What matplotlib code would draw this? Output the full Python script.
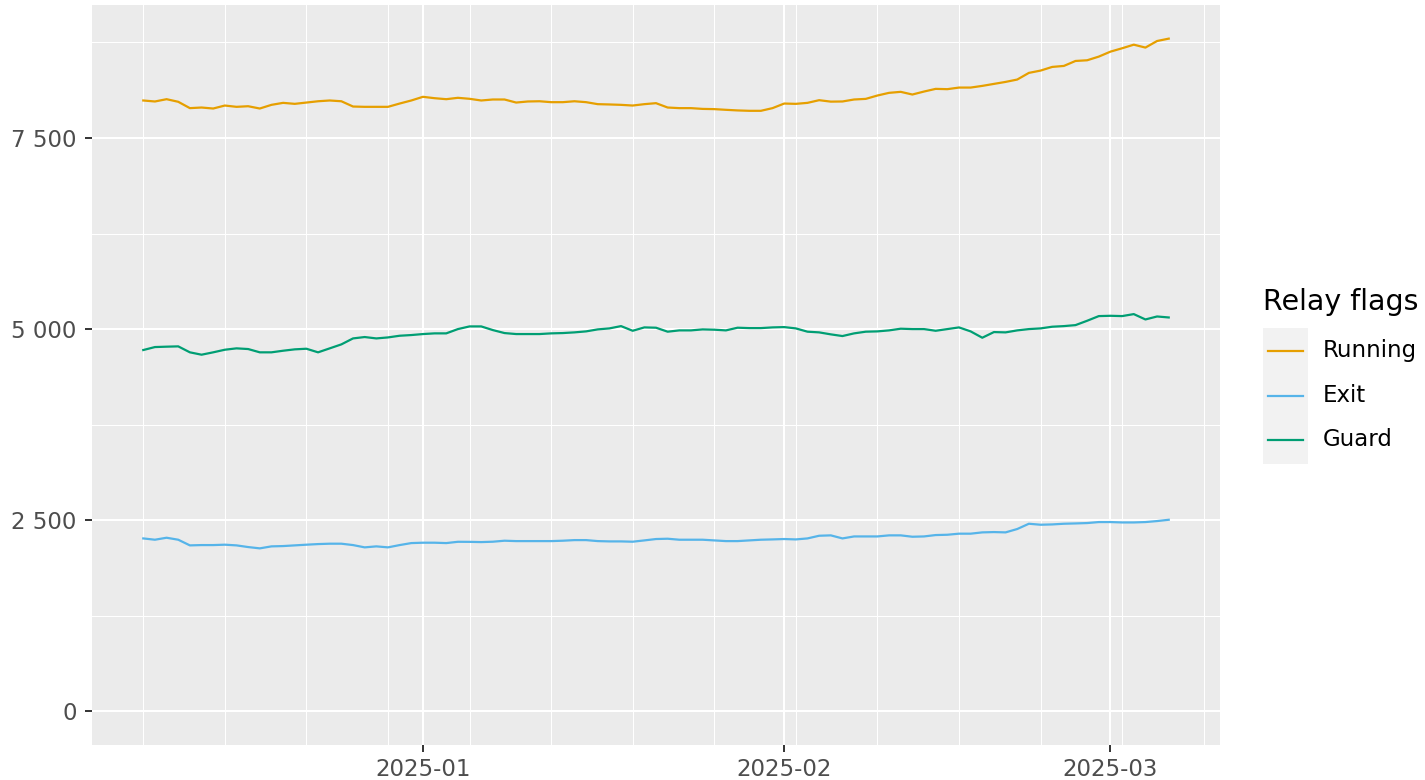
import numpy as np
import pandas as pd
import matplotlib
matplotlib.use("Agg")
import matplotlib.pyplot as plt
import matplotlib.dates as mdates
from matplotlib.ticker import FuncFormatter, MultipleLocator
from matplotlib.patches import Rectangle
from matplotlib.lines import Line2D

dates = pd.date_range("2024-12-08", "2025-03-06", freq="D")

running = [
    7990, 7977, 8007, 7973, 7890, 7898, 7885, 7924, 7907, 7915, 7885, 7933, 7959, 7946, 7963, 7980,
    7990, 7980, 7911, 7907, 7907, 7907, 7950, 7990,
    8038, 8020, 8007, 8025, 8012, 7990, 8003, 8003, 7963, 7977, 7980, 7968, 7968, 7980, 7968, 7942,
    7938, 7933, 7924, 7942, 7955, 7898, 7890, 7890, 7880, 7877, 7868, 7860, 7855, 7855, 7890,
    7950, 7946, 7959, 7994, 7975, 7977, 8003, 8011, 8055, 8090, 8103, 8068, 8107, 8142, 8138, 8159,
    8159, 8181, 8207, 8233, 8264, 8351, 8381, 8429, 8442, 8507, 8516, 8564,
    8629, 8673, 8720, 8682, 8768, 8799,
]
exit_ = [
    2262, 2245, 2271, 2245, 2171, 2175, 2175, 2180, 2171, 2149, 2132, 2158, 2162, 2171, 2180, 2188,
    2193, 2193, 2175, 2145, 2158, 2145, 2175, 2201,
    2206, 2206, 2201, 2218, 2217, 2214, 2219, 2232, 2227, 2227, 2227, 2227, 2232, 2240, 2240, 2227,
    2223, 2223, 2219, 2236, 2254, 2258, 2245, 2245, 2245, 2236, 2227, 2227, 2236, 2245, 2249,
    2254, 2249, 2262, 2297, 2302, 2262, 2288, 2288, 2288, 2302, 2302, 2284, 2288, 2306, 2310, 2324,
    2324, 2341, 2345, 2341, 2385, 2454, 2441, 2445, 2454, 2458, 2463, 2476,
    2476, 2471, 2471, 2476, 2489, 2506,
]
guard = [
    4726, 4765, 4770, 4774, 4696, 4665, 4696, 4730, 4748, 4739, 4696, 4696, 4717, 4735, 4743, 4696,
    4748, 4800, 4878, 4896, 4878, 4891, 4913, 4922,
    4935, 4944, 4944, 5000, 5035, 5035, 4987, 4948, 4935, 4935, 4935, 4944, 4948, 4957, 4970, 4996,
    5009, 5039, 4978, 5022, 5018, 4966, 4983, 4983, 4996, 4992, 4983, 5018, 5013, 5013, 5022,
    5026, 5009, 4966, 4957, 4931, 4909, 4944, 4966, 4970, 4983, 5005, 5000, 5000, 4978, 5000, 5022,
    4970, 4887, 4961, 4957, 4983, 5000, 5009, 5031, 5039, 5052, 5109, 5170,
    5174, 5170, 5196, 5126, 5165, 5152,
]

series_names = ["Running", "Exit", "Guard"]
series_values = [running, exit_, guard]
series_colors = ["#E69F00", "#56B4E9", "#009E73"]

fig = plt.figure(figsize=(14.25, 7.8), dpi=100)
ax = fig.add_axes([92 / 1425, 1 - 745 / 780, (1220 - 92) / 1425, (745 - 5) / 780])
ax.set_facecolor("#EBEBEB")
for s in ax.spines.values():
    s.set_visible(False)

for name, vals, col in zip(series_names, series_values, series_colors):
    ax.plot(dates, vals, color=col, linewidth=1.6, solid_joinstyle="round", zorder=3)

# limits (ggplot-style 5% expansion, including 0)
xnum = mdates.date2num(dates)
xr = xnum[-1] - xnum[0]
ax.set_xlim(xnum[0] - 0.05 * xr, xnum[-1] + 0.05 * xr)
ymax = max(max(v) for v in series_values)
ax.set_ylim(0 - 0.05 * ymax, ymax + 0.05 * ymax)

ax.xaxis.set_major_locator(mdates.MonthLocator())
ax.xaxis.set_major_formatter(mdates.DateFormatter("%Y-%m"))
ax.xaxis.set_minor_locator(mdates.WeekdayLocator(byweekday=mdates.SU))
ax.yaxis.set_major_locator(MultipleLocator(2500))
ax.yaxis.set_minor_locator(MultipleLocator(1250))
ax.yaxis.set_major_formatter(FuncFormatter(lambda v, p: f"{int(round(v)):,}".replace(",", " ")))

ax.grid(which="major", color="white", linewidth=1.5, zorder=1)
ax.grid(which="minor", color="white", linewidth=0.75, zorder=1)
ax.set_axisbelow(True)

ax.tick_params(which="major", length=5, width=1.4, color="#333333", labelsize=16.5,
               labelcolor="#4D4D4D", pad=4)
ax.tick_params(axis="y", which="major", pad=6)
ax.tick_params(which="minor", length=0)

# legend
def fy(py):
    return 1 - py / 780

fig.text(1263 / 1425, fy(302), "Relay flags", fontsize=20.5, color="black", va="center", ha="left")
fig.patches.append(Rectangle((1263 / 1425, fy(464)), 45 / 1425, (464 - 328) / 780,
                             transform=fig.transFigure, facecolor="#F2F2F2", edgecolor="none"))
for i, (name, col) in enumerate(zip(series_names, series_colors)):
    yc = 351 + i * 44.5
    fig.lines.append(Line2D([1268 / 1425, 1303 / 1425], [fy(yc), fy(yc)], transform=fig.transFigure,
                            color=col, linewidth=1.6))
    fig.text(1323 / 1425, fy(yc), name, fontsize=16.5, color="black", va="center", ha="left")

fig.savefig("out.png", dpi=100, facecolor="white")
